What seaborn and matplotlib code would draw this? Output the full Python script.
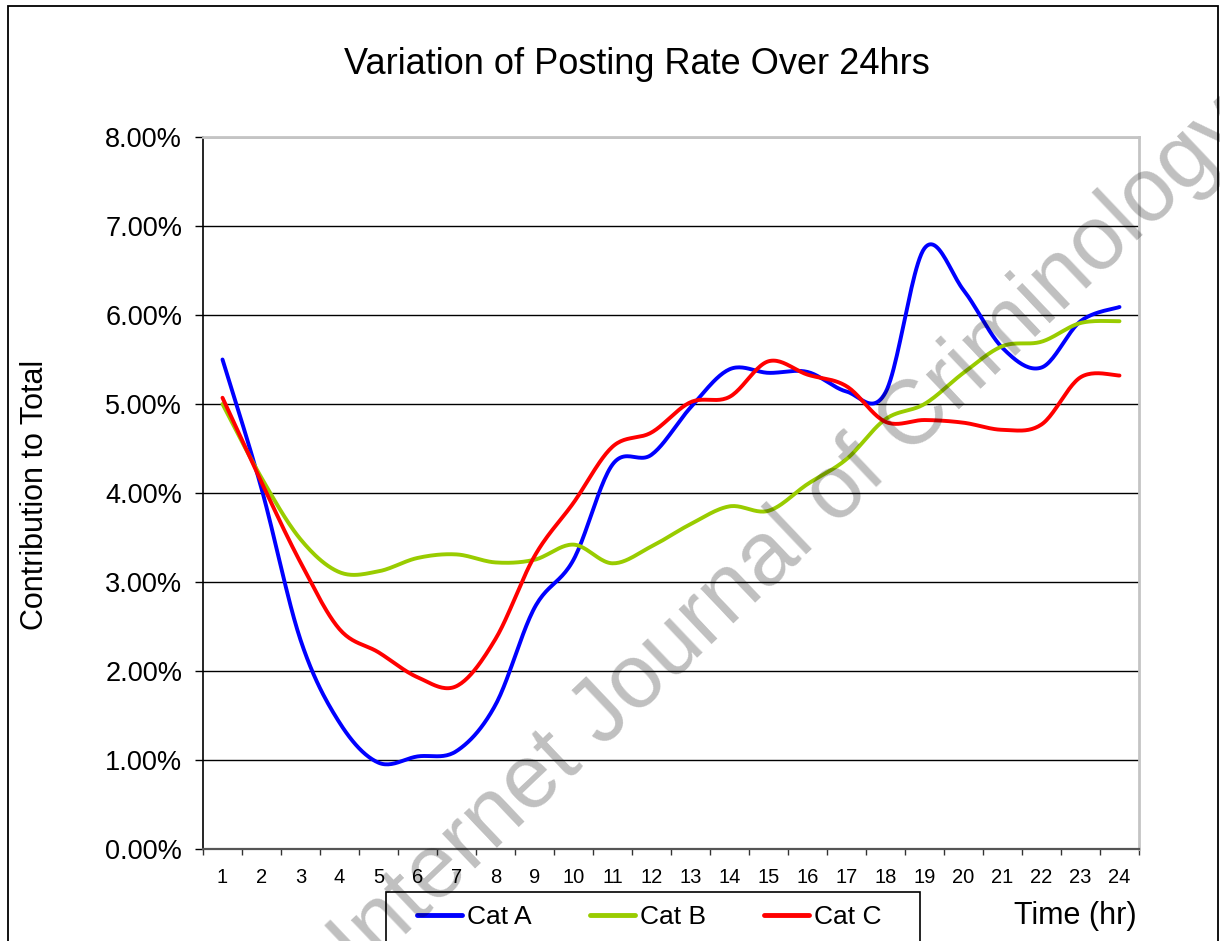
import numpy as np
import pandas as pd
import matplotlib
matplotlib.use("Agg")
import matplotlib.pyplot as plt
import seaborn as sns
from matplotlib.patches import Rectangle
from matplotlib.ticker import FixedLocator, FuncFormatter, NullFormatter

# ---------------- data (percent contribution per hour) ----------------
hours = list(range(1, 25))
cat_a = [5.50, 4.05, 2.35, 1.42, 0.97, 1.04, 1.10, 1.62, 2.71, 3.25, 4.32, 4.43,
         4.96, 5.39, 5.35, 5.36, 5.14, 5.13, 6.75, 6.28, 5.63, 5.41, 5.93, 6.09]
cat_b = [5.00, 4.17, 3.48, 3.11, 3.12, 3.27, 3.31, 3.22, 3.25, 3.42, 3.21, 3.40,
         3.65, 3.85, 3.80, 4.10, 4.38, 4.83, 5.00, 5.35, 5.65, 5.70, 5.91, 5.93]
cat_c = [5.07, 4.12, 3.22, 2.47, 2.21, 1.93, 1.83, 2.36, 3.29, 3.89, 4.52, 4.68,
         5.02, 5.08, 5.48, 5.33, 5.20, 4.80, 4.82, 4.79, 4.71, 4.77, 5.30, 5.32]
series_names = ["Cat A", "Cat B", "Cat C"]
series_colors = ["#0000FF", "#99CC00", "#FF0000"]
y_ticks = [0, 1, 2, 3, 4, 5, 6, 7, 8]
title = "Variation of Posting Rate Over 24hrs"
y_label = "Contribution to Total"
x_label = "Time (hr)"
watermark = "Internet Journal of Criminology"


def smoothed(xs, ys, n=24):
    """Excel-style smoothed line through the data points (cubic Bezier)."""
    pts = np.column_stack([xs, ys]).astype(float)
    ext = np.vstack([pts[0], pts, pts[-1]])
    segs = []
    t = np.linspace(0, 1, n, endpoint=False)[:, None]
    for i in range(len(pts) - 1):
        p0, p1, p2, p3 = ext[i], ext[i + 1], ext[i + 2], ext[i + 3]
        c1 = p1 + (p2 - p0) / 6.0
        c2 = p2 - (p3 - p1) / 6.0
        segs.append((1 - t) ** 3 * p1 + 3 * (1 - t) ** 2 * t * c1
                    + 3 * (1 - t) * t ** 2 * c2 + t ** 3 * p2)
    segs.append(pts[-1:])
    return np.vstack(segs)


frames = []
for name, vals in zip(series_names, [cat_a, cat_b, cat_c]):
    s = smoothed(hours, vals)
    frames.append(pd.DataFrame({"hour": s[:, 0], "value": s[:, 1], "series": name}))
df = pd.concat(frames, ignore_index=True)

sns.set_style("white")
plt.rcParams["font.family"] = ["Liberation Sans", "DejaVu Sans"]
plt.rcParams["text.color"] = "black"
plt.rcParams["axes.labelcolor"] = "black"
plt.rcParams["xtick.color"] = "black"
plt.rcParams["ytick.color"] = "black"

W, H = 1220, 941
fig = plt.figure(figsize=(W / 100, H / 100), dpi=100)
ax = fig.add_axes([203 / W, 1 - 849 / H, 936 / W, (849 - 137) / H])

sns.lineplot(data=df, x="hour", y="value", hue="series", hue_order=series_names,
             palette=series_colors, sort=False, estimator=None, units="series",
             linewidth=2.8, ax=ax, legend=True)
for ln in ax.lines:
    ln.set_solid_capstyle("round")

ax.set_xlim(0.5, 24.5)
ax.set_ylim(0, 8)

# gridlines
ax.yaxis.set_major_locator(FixedLocator(y_ticks))
ax.yaxis.set_major_formatter(FuncFormatter(lambda v, p: f"{v:.2f}%"))
ax.grid(axis="y", color="black", linewidth=1.0)
ax.grid(axis="x", visible=False)
ax.set_axisbelow(True)

# x axis: tick marks between categories, labels at the centres
ax.xaxis.set_major_locator(FixedLocator(np.arange(0.5, 25, 1)))
ax.xaxis.set_major_formatter(NullFormatter())
ax.xaxis.set_minor_locator(FixedLocator(hours))
ax.xaxis.set_minor_formatter(FuncFormatter(lambda v, p: f"{int(round(v))}"))
ax.tick_params(axis="x", which="major", direction="out", length=4, width=1,
               color="#333333", bottom=True)
ax.tick_params(axis="x", which="minor", length=0, pad=13.5, labelsize=14.5,
               labelcolor="black")
ax.tick_params(axis="y", which="major", direction="out", length=6, width=1,
               color="black", left=True, pad=9, labelsize=19.5, labelcolor="black")

for side in ["top", "right"]:
    ax.spines[side].set_color("#c4c4c4")
    ax.spines[side].set_linewidth(2)
ax.spines["left"].set_color("black")
ax.spines["left"].set_linewidth(1.2)
ax.spines["bottom"].set_color("#555555")
ax.spines["bottom"].set_linewidth(1.6)

ax.set_xlabel("")
ax.set_ylabel("")
fig.text(35 / W, 1 - 495 / H, y_label, rotation=90, ha="center", va="center",
         fontsize=22, color="black")
fig.text(637 / W, 1 - 65 / H, title, ha="center", va="center", fontsize=26,
         color="black")
fig.text(1137 / W, 1 - 916 / H, x_label, ha="right", va="center", fontsize=22,
         color="black")

# legend (Excel-style box, partly cut by the image edge)
handles, labels = ax.get_legend_handles_labels()
ax.get_legend().remove()
leg = fig.legend(handles, labels, loc="center left",
                 bbox_to_anchor=(417 / W, 1 - 917 / H), frameon=False, ncol=3,
                 handlelength=1.7, handletextpad=0.2, columnspacing=2.2,
                 fontsize=19, borderpad=0, borderaxespad=0, labelcolor="black")
for h in leg.legend_handles:
    h.set_linewidth(3.5)
fig.patches.append(Rectangle((386 / W, -0.05), (920 - 386) / W, (1 - 892 / H) + 0.05,
                             transform=fig.transFigure, fill=False,
                             edgecolor="black", linewidth=1.2, zorder=5))

# chart-area border
fig.patches.append(Rectangle((8 / W, -0.05), (1218 - 8) / W, (1 - 6 / H) + 0.05,
                             transform=fig.transFigure, fill=False,
                             edgecolor="black", linewidth=1.3, zorder=5))

# watermark
fig.text(808 / W, 1 - 553 / H, watermark, rotation=43.5, rotation_mode="anchor",
         ha="center", va="baseline", fontsize=65, color="black", alpha=0.25,
         zorder=20)

fig.savefig("out.png", dpi=100)
